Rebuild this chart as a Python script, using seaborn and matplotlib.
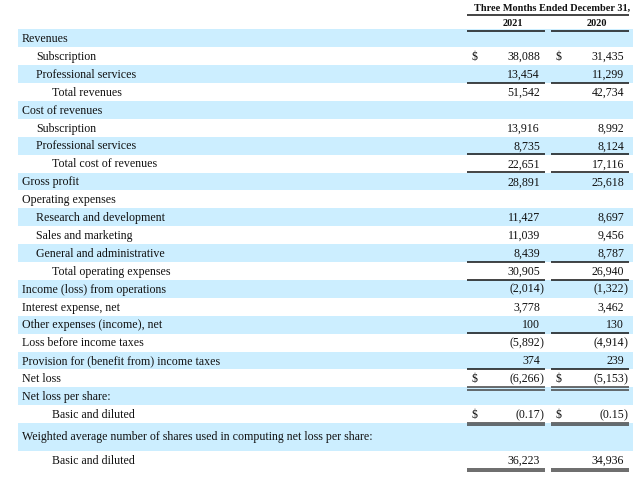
import matplotlib
matplotlib.use("Agg")
import matplotlib.pyplot as plt
import seaborn as sns
import numpy as np

# statement lines, top to bottom
labels = [
    "Revenues", "Subscription", "Professional services", "Total revenues",
    "Cost of revenues", "Subscription", "Professional services", "Total cost of revenues",
    "Gross profit", "Operating expenses", "Research and development", "Sales and marketing",
    "General and administrative", "Total operating expenses", "Income (loss) from operations",
    "Interest expense, net", "Other expenses (income), net", "Loss before income taxes",
    "Provision for (benefit from) income taxes", "Net loss", "Net loss per share:",
    "Basic and diluted",
    "Weighted average number of shares used in computing net loss per share:",
    "Basic and diluted",
]
indent = [0, 1, 1, 2, 0, 1, 1, 2, 0, 0, 1, 1, 1, 2, 0, 0, 0, 0, 0, 0, 0, 2, 0, 2]
val_2021 = [None, 38088, 13454, 51542, None, 13916, 8735, 22651, 28891, None, 11427, 11039,
            8439, 30905, -2014, 3778, 100, -5892, 374, -6266, None, -0.17, None, 36223]
val_2020 = [None, 31435, 11299, 42734, None, 8992, 8124, 17116, 25618, None, 8697, 9456,
            8787, 26940, -1322, 3462, 130, -4914, 239, -5153, None, -0.15, None, 34936]
dollar = [False, True] + [False] * 17 + [True, False, True, False, False]
# 1 = single rule under the row, 2 = double rule
rule = [0, 0, 1, 0, 0, 0, 1, 1, 0, 0, 0, 0, 1, 1, 0, 0, 1, 0, 1, 2, 0, 2, 0, 2]

header = "Three Months Ended December 31,"
years = ["2021", "2020"]

sns.set_theme(style="white")
plt.rcParams["font.family"] = ["Liberation Serif", "DejaVu Serif"]

BLUE = "#CCEEFF"
INK = "#111111"
FS = 8.6

fig = plt.figure(figsize=(6.4, 4.87), dpi=100)
ax = fig.add_axes([0, 0, 1, 1])
ax.set_xlim(0, 640)
ax.set_ylim(487, 0)
ax.axis("off")

heights = np.full(len(labels), 17.9)
heights[22] = 27.5
heights[23] = 18.5
tops = 29.3 + np.concatenate([[0], np.cumsum(heights)[:-1]])

indent_x = {0: 22, 1: 36, 2: 52}
cols = [(467, 545, 540, 471), (551, 629, 624, 555)]  # rule left, rule right, number right, $ x
year_x = [513, 597]


def fmt(v):
    if v is None:
        return None, ""
    if isinstance(v, float):
        s = f"{abs(v):.2f}"
    else:
        s = f"{abs(v):,}"
    if v < 0:
        return "(" + s, ")"
    return s, ""


for i, lab in enumerate(labels):
    top, h = tops[i], heights[i]
    if i % 2 == 0:
        ax.add_patch(plt.Rectangle((18, top), 615, h, color=BLUE, lw=0, zorder=0))
    yc = top + h / 2 + 0.8
    if i == 22:
        yc = top + h / 2 + 0.5
    ax.text(indent_x[indent[i]], yc, lab, fontsize=FS, va="center", ha="left", color=INK)
    for (l, r, nx, dx), v in zip(cols, [val_2021[i], val_2020[i]]):
        body, tail = fmt(v)
        if body is not None:
            ax.text(nx, yc, body, fontsize=FS, va="center", ha="right", color=INK)
            if tail:
                ax.text(nx, yc, tail, fontsize=FS, va="center", ha="left", color=INK)
            if dollar[i]:
                ax.text(dx, yc, "$", fontsize=FS, va="center", ha="left", color=INK)
        yb = top + h
        if rule[i] == 1:
            ax.plot([l, r], [yb - 0.3, yb - 0.3], color=INK, lw=1.1, solid_capstyle="butt")
        elif rule[i] == 2:
            ax.plot([l, r], [yb + 0.2, yb + 0.2], color="#444444", lw=1.1, solid_capstyle="butt")
            ax.plot([l, r], [yb + 2.4, yb + 2.4], color="#444444", lw=1.1, solid_capstyle="butt")

# column heading
ax.text(552, 8, header, fontsize=7.4, fontweight="bold", ha="center", va="center", color=INK)
ax.plot([467, 629], [15, 15], color=INK, lw=1.1, solid_capstyle="butt")
for (l, r, nx, dx), yx, yr in zip(cols, year_x, years):
    ax.text(yx, 23.5, yr, fontsize=7.4, fontweight="bold", ha="center", va="center", color=INK)
    ax.plot([l, r], [30.5, 30.5], color=INK, lw=1.1, solid_capstyle="butt")

fig.savefig("out.png", dpi=100)
